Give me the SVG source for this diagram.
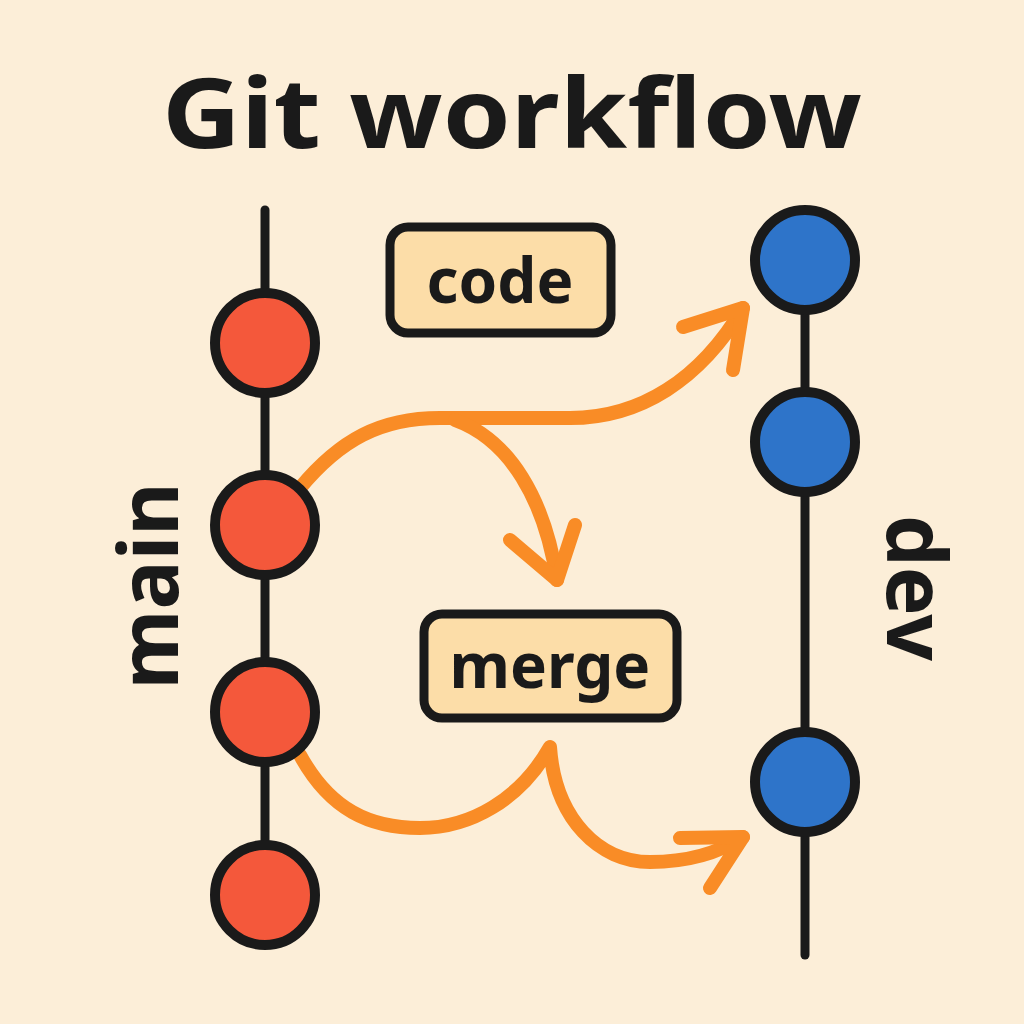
<svg xmlns="http://www.w3.org/2000/svg" width="1024" height="1024" viewBox="0 0 1024 1024">
<defs>
<style>
.bg{fill:#FCEED8}
.line{stroke:#1A1A1A;stroke-width:9;stroke-linecap:round;fill:none}
.main{fill:#F4583B;stroke:#1A1A1A;stroke-width:10}
.dev{fill:#2E74C9;stroke:#1A1A1A;stroke-width:10}
.box{fill:#FCDDA8;stroke:#1A1A1A;stroke-width:9}
.t{font-family:"Noto Sans","Open Sans",sans-serif;font-weight:700;fill:#1A1A1A}
.arr{stroke:#F98C26;stroke-width:14;fill:none;stroke-linecap:round;stroke-linejoin:round}
</style>
</defs>
<rect class="bg" width="1024" height="1024"/>
<text class="t" x="512" y="148" font-size="96" text-anchor="middle" textLength="700" lengthAdjust="spacingAndGlyphs">Git workflow</text>

<g id="main-branch">
<line class="line" x1="265" y1="210" x2="265" y2="900"/>
<text class="t" font-size="82" text-anchor="middle" transform="translate(178,586) rotate(-90)">main</text>
</g>
<g id="dev-branch">
<line class="line" x1="805" y1="220" x2="805" y2="955"/>
<text class="t" font-size="82" text-anchor="middle" transform="translate(887,588) rotate(90)">dev</text>
</g>

<g id="connectors">
<path class="arr" d="M300,488 C340,440 380,418 440,418 L570,418 C640,418 700,380 743,308"/>
<path class="arr" d="M683,327 L743,308 L733,370"/>
<path class="arr" d="M455,420 C510,440 545,500 557,580"/>
<path class="arr" d="M510,540 L557,580 L575,525"/>
<path class="arr" d="M300,755 C330,810 370,828 420,828 C470,828 520,800 550,747 C555,820 600,862 650,862 C690,862 720,852 743,837"/>
<path class="arr" d="M680,838 L743,837 L710,888"/>
</g>

<g id="m1"><circle class="main" cx="265" cy="343" r="50"/></g>
<g id="m2"><circle class="main" cx="265" cy="525" r="50"/></g>
<g id="m3"><circle class="main" cx="265" cy="712" r="50"/></g>
<g id="m4"><circle class="main" cx="265" cy="895" r="50"/></g>
<g id="d1"><circle class="dev" cx="805" cy="260" r="50"/></g>
<g id="d2"><circle class="dev" cx="805" cy="442" r="50"/></g>
<g id="d3"><circle class="dev" cx="805" cy="782" r="50"/></g>

<g id="code">
<rect class="box" x="390" y="227" width="221" height="106" rx="18"/>
<text class="t" x="500" y="303" font-size="62" text-anchor="middle">code</text>
</g>
<g id="merge">
<rect class="box" x="424" y="614" width="253" height="104" rx="18"/>
<text class="t" x="550" y="688" font-size="62" text-anchor="middle">merge</text>
</g>
</svg>
